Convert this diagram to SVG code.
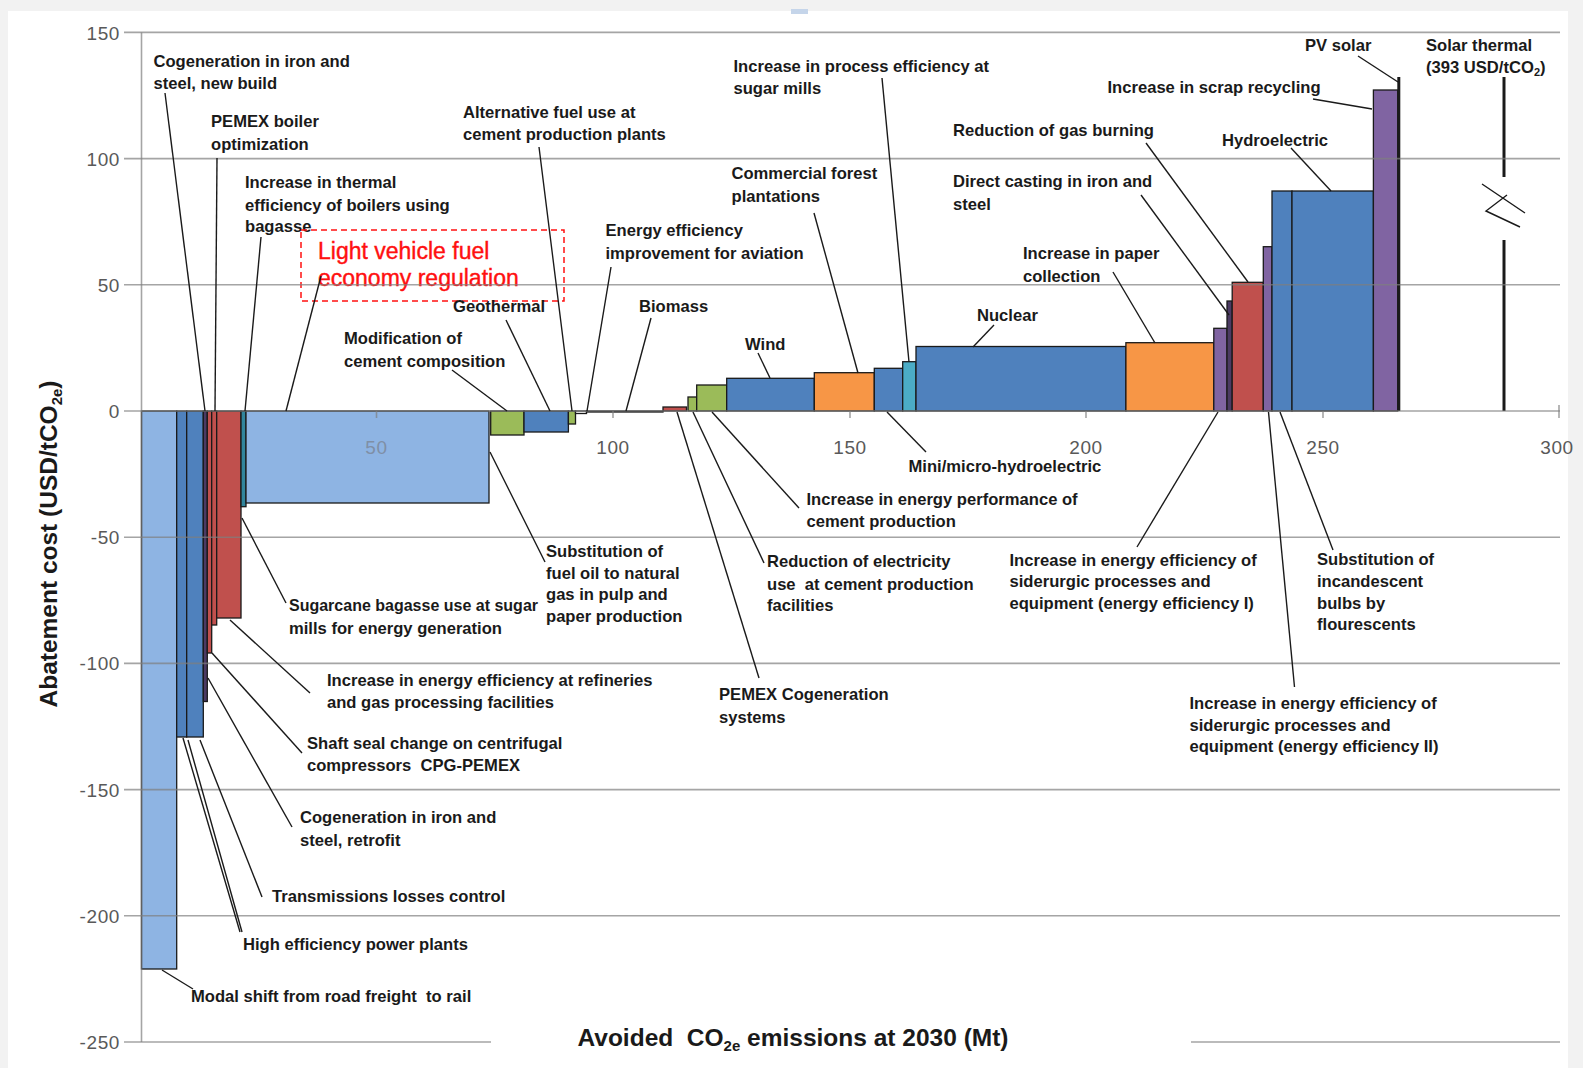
<svg xmlns="http://www.w3.org/2000/svg" width="1583" height="1068" viewBox="0 0 1583 1068">
<style>
.bar{stroke:#1a1a1a;stroke-width:1.3}
.lbl{font-family:"Liberation Sans",Arial,sans-serif;font-size:16.6px;font-weight:bold;fill:#1a1a1a}
.red{font-family:"Liberation Sans",Arial,sans-serif;font-size:23px;fill:#FF1010;stroke:#FF1010;stroke-width:0.4px}
.tk{font-family:"Liberation Sans",Arial,sans-serif;font-size:19px;fill:#595959;letter-spacing:0.6px}
.ttl{font-family:"Liberation Sans",Arial,sans-serif;font-size:24.5px;font-weight:bold;fill:#1a1a1a}
.grid{stroke:#7f7f7f;stroke-opacity:0.7;stroke-width:1.6;fill:none}
.ld{stroke:#1a1a1a;stroke-width:1.4;fill:none}
.lb{fill:#8EB4E3}.bl{fill:#4F81BD}.rd{fill:#C0504D}.gr{fill:#9BBB59}.pu{fill:#8064A2}.dp{fill:#4B3A63}.or{fill:#F79646}.te{fill:#4BACC6}.dt{fill:#31859C}
</style>
<rect width="1583" height="1068" fill="#F2F2F2"/>
<rect x="8" y="11" width="1560" height="1057" fill="#FFFFFF"/>
<rect x="791" y="9" width="17" height="5" fill="#C5D5EA"/>

<g id="bars-and-labels">
<g id="n-modal-shift"><rect class="bar lb" x="141.5" y="411" width="35.2" height="558"/><text class="lbl" x="191" y="1001.5">Modal shift from road freight&#160; to rail</text></g>
<g id="n-high-eff-power"><rect class="bar bl" x="176.7" y="411" width="10" height="326"/><text class="lbl" x="243" y="949.5">High efficiency power plants</text></g>
<g id="n-transmissions"><rect class="bar bl" x="186.7" y="411" width="16.6" height="326"/><text class="lbl" x="272" y="901.5">Transmissions losses control</text></g>
<g id="n-cogen-retrofit"><rect class="bar dp" x="203.3" y="411" width="4" height="290.5"/><text class="lbl" x="300" y="823">Cogeneration in iron and</text><text class="lbl" x="300" y="845.5">steel, retrofit</text></g>
<g id="n-shaft-seal"><rect class="bar rd" x="207.3" y="411" width="4.4" height="242"/><text class="lbl" x="307" y="749">Shaft seal change on centrifugal</text><text class="lbl" x="307" y="770.5">compressors&#160; CPG-PEMEX</text></g>
<g id="n-pemex-boiler"><rect class="bar rd" x="211.7" y="411" width="5" height="214"/><text class="lbl" x="211" y="126.5">PEMEX boiler</text><text class="lbl" x="211" y="149.5">optimization</text></g>
<g id="n-sugarcane"><rect class="bar rd" x="216.7" y="411" width="24.3" height="207"/><text class="lbl" x="289" y="610.5" style="font-size:16px">Sugarcane bagasse use at sugar</text><text class="lbl" x="289" y="634">mills for energy generation</text></g>
<g id="n-refineries"><text class="lbl" x="327" y="685.5">Increase in energy efficiency at refineries</text><text class="lbl" x="327" y="708">and gas processing facilities</text></g>
<g id="n-cogen-new"><text class="lbl" x="153.5" y="66.5">Cogeneration in iron and</text><text class="lbl" x="153.5" y="89">steel, new build</text></g>
<g id="n-thermal-boilers"><rect class="bar dt" x="241" y="411" width="5" height="95.7"/><text class="lbl" x="245" y="187.5">Increase in thermal</text><text class="lbl" x="245" y="210.5">efficiency of boilers using</text><text class="lbl" x="245" y="231.5">bagasse</text></g>
<g id="n-light-vehicle"><rect class="bar lb" x="246" y="411" width="243" height="92"/><rect x="301" y="230" width="263" height="71" fill="none" stroke="#FF1010" stroke-width="1.5" stroke-dasharray="6 4"/><text class="red" x="318" y="259">Light vehicle fuel</text><text class="red" x="318" y="286">economy regulation</text></g>
<g id="n-modification-cement"><rect class="bar gr" x="490.7" y="411" width="33.3" height="24"/><text class="lbl" x="344" y="343.5">Modification of</text><text class="lbl" x="344" y="366.5">cement composition</text></g>
<g id="n-geothermal"><rect class="bar bl" x="524" y="411" width="44.4" height="21"/><text class="lbl" x="453" y="312">Geothermal</text></g>
<g id="n-alternative-fuel"><rect class="bar gr" x="568.4" y="411" width="7.1" height="13"/><text class="lbl" x="463" y="117.5">Alternative fuel use at</text><text class="lbl" x="463" y="140">cement production plants</text></g>
<g id="n-aviation"><rect class="bar" fill="#FFFFFF" x="575.5" y="411" width="11" height="2.5"/><text class="lbl" x="605.5" y="235.5">Energy efficiency</text><text class="lbl" x="605.5" y="259">improvement for aviation</text></g>
<g id="n-biomass"><rect class="bar" fill="#FFFFFF" x="586.5" y="411" width="76.5" height="1"/><text class="lbl" x="639" y="312">Biomass</text></g>
<g id="n-substitution-fuel-oil"><text class="lbl" x="546" y="556.5">Substitution of</text><text class="lbl" x="546" y="579">fuel oil to natural</text><text class="lbl" x="546" y="600">gas in pulp and</text><text class="lbl" x="546" y="621.5">paper production</text></g>
<g id="n-pemex-cogen"><rect class="bar rd" x="663" y="407" width="23.5" height="4"/><text class="lbl" x="719" y="699.5">PEMEX Cogeneration</text><text class="lbl" x="719" y="723">systems</text></g>
<g id="n-reduction-electricity"><rect class="bar gr" x="688" y="397" width="8.7" height="14"/><text class="lbl" x="767" y="567">Reduction of electricity</text><text class="lbl" x="767" y="590">use&#160; at cement production</text><text class="lbl" x="767" y="610.5">facilities</text></g>
<g id="n-energy-perf-cement"><rect class="bar gr" x="696.7" y="385" width="30" height="26"/><text class="lbl" x="806.5" y="505">Increase in energy performance of</text><text class="lbl" x="806.5" y="527">cement production</text></g>
<g id="n-wind"><rect class="bar bl" x="726.7" y="378.3" width="87.6" height="32.7"/><text class="lbl" x="745" y="349.5">Wind</text></g>
<g id="n-commercial-forest"><rect class="bar or" x="814.3" y="372.7" width="60" height="38.3"/><text class="lbl" x="731.5" y="179">Commercial forest</text><text class="lbl" x="731.5" y="202">plantations</text></g>
<g id="n-mini-micro-hydro"><rect class="bar bl" x="874.3" y="368.3" width="28.4" height="42.7"/><text class="lbl" x="908.5" y="471.5">Mini/micro-hydroelectric</text></g>
<g id="n-sugar-mills"><rect class="bar te" x="902.7" y="361.7" width="13.3" height="49.3"/><text class="lbl" x="733.5" y="71.5">Increase in process efficiency at</text><text class="lbl" x="733.5" y="94">sugar mills</text></g>
<g id="n-nuclear"><rect class="bar bl" x="916" y="346.5" width="209.9" height="64.5"/><text class="lbl" x="977" y="320.5">Nuclear</text></g>
<g id="n-paper"><rect class="bar or" x="1125.9" y="342.7" width="87.9" height="68.3"/><text class="lbl" x="1023" y="259">Increase in paper</text><text class="lbl" x="1023" y="281.5">collection</text></g>
<g id="n-siderurgic-1"><rect class="bar pu" x="1213.8" y="328.3" width="13.2" height="82.7"/><text class="lbl" x="1009.5" y="565.5">Increase in energy efficiency of</text><text class="lbl" x="1009.5" y="587">siderurgic processes and</text><text class="lbl" x="1009.5" y="609">equipment (energy efficiency I)</text></g>
<g id="n-direct-casting"><rect class="bar dp" x="1227" y="301" width="5.2" height="110"/><text class="lbl" x="953" y="187">Direct casting in iron and</text><text class="lbl" x="953" y="209.5">steel</text></g>
<g id="n-gas-burning"><rect class="bar rd" x="1232.2" y="282.3" width="31.1" height="128.7"/><text class="lbl" x="953" y="135.5">Reduction of gas burning</text></g>
<g id="n-siderurgic-2"><rect class="bar pu" x="1263.3" y="246.7" width="8.7" height="164.3"/><text class="lbl" x="1189.5" y="709">Increase in energy efficiency of</text><text class="lbl" x="1189.5" y="730.5">siderurgic processes and</text><text class="lbl" x="1189.5" y="752">equipment (energy efficiency II)</text></g>
<g id="n-bulbs"><rect class="bar bl" x="1272" y="191" width="20" height="220"/><text class="lbl" x="1317" y="565">Substitution of</text><text class="lbl" x="1317" y="587">incandescent</text><text class="lbl" x="1317" y="609">bulbs by</text><text class="lbl" x="1317" y="629.5">flourescents</text></g>
<g id="n-hydro"><rect class="bar bl" x="1292" y="191" width="81.4" height="220"/><text class="lbl" x="1222" y="146">Hydroelectric</text></g>
<g id="n-scrap"><rect class="bar pu" x="1373.4" y="90" width="24.3" height="321"/><text class="lbl" x="1107.5" y="93">Increase in scrap recycling</text></g>
<g id="n-pv"><line x1="1398.8" y1="77" x2="1398.8" y2="411" stroke="#1a1a1a" stroke-width="3"/><text class="lbl" x="1305" y="50.5">PV solar</text></g>
<g id="n-solar-thermal"><line x1="1504" y1="77" x2="1504" y2="177" stroke="#1a1a1a" stroke-width="3"/><line x1="1504" y1="240" x2="1504" y2="411" stroke="#1a1a1a" stroke-width="3"/><path d="M1482,184 L1525,213 M1507,195 L1486,211 L1520,227" fill="none" stroke="#1a1a1a" stroke-width="1.4"/><text class="lbl" x="1426" y="50.5">Solar thermal</text><text class="lbl" x="1426" y="73">(393 USD/tCO<tspan font-size="11" dy="3">2</tspan><tspan dy="-3">)</tspan></text></g>
</g>

<g id="axes">
<g class="grid">
<line x1="124" y1="32.4" x2="1560" y2="32.4"/>
<line x1="124" y1="158.6" x2="1560" y2="158.6"/>
<line x1="124" y1="284.8" x2="1560" y2="284.8"/>
<line x1="124" y1="411" x2="1560" y2="411"/>
<line x1="124" y1="537.2" x2="1560" y2="537.2"/>
<line x1="124" y1="663.4" x2="1560" y2="663.4"/>
<line x1="124" y1="789.6" x2="1560" y2="789.6"/>
<line x1="124" y1="915.8" x2="1560" y2="915.8"/>
<line x1="124" y1="1042" x2="491" y2="1042"/>
<line x1="1191" y1="1042" x2="1560" y2="1042"/>
<line x1="141.5" y1="32.4" x2="141.5" y2="1042"/>
<path d="M376.5,411V418M613,411V418M850,411V418M1086,411V418M1323,411V418M1559,405V418"/>
</g>
<g class="tk" text-anchor="end">
<text x="120" y="39.5">150</text><text x="120" y="165.6">100</text><text x="120" y="291.8">50</text><text x="120" y="418">0</text><text x="120" y="544.2">-50</text><text x="120" y="670.4">-100</text><text x="120" y="796.6">-150</text><text x="120" y="922.8">-200</text><text x="120" y="1049">-250</text>
</g>
<g class="tk" text-anchor="middle">
<text x="376.5" y="453.5" fill="#7f8fa6">50</text><text x="613" y="453.5">100</text><text x="850" y="453.5">150</text><text x="1086" y="453.5">200</text><text x="1323" y="453.5">250</text><text x="1557" y="453.5">300</text>
</g>
<text class="ttl" text-anchor="middle" transform="translate(57,544) rotate(-90)">Abatement cost (USD/tCO<tspan font-size="15" dy="5">2e</tspan><tspan dy="-5">)</tspan></text>
<text class="ttl" x="793" y="1046" text-anchor="middle">Avoided&#160; CO<tspan font-size="15" dy="5">2e</tspan><tspan dy="-5"> emissions at 2030 (Mt)</tspan></text>
</g>

<g id="connectors" class="ld">
<line x1="165" y1="93" x2="205" y2="411"/>
<line x1="217" y1="158" x2="215" y2="411"/>
<line x1="261" y1="237" x2="245" y2="411"/>
<line x1="321" y1="276" x2="286" y2="411"/>
<line x1="452" y1="370" x2="507" y2="411"/>
<line x1="506" y1="320" x2="550" y2="411"/>
<line x1="539" y1="147" x2="572" y2="411"/>
<line x1="611" y1="267" x2="587" y2="411"/>
<line x1="651" y1="318" x2="626" y2="411"/>
<line x1="758" y1="353" x2="770" y2="378"/>
<line x1="814" y1="213" x2="858" y2="373"/>
<line x1="882" y1="78" x2="909" y2="362"/>
<line x1="994" y1="325" x2="973" y2="347"/>
<line x1="1146" y1="143" x2="1248" y2="282"/>
<line x1="1141" y1="195" x2="1229" y2="315"/>
<line x1="1113" y1="272" x2="1155" y2="343"/>
<line x1="1291" y1="148" x2="1331" y2="191"/>
<line x1="1313" y1="99" x2="1372" y2="109"/>
<line x1="1358" y1="56" x2="1398" y2="82"/>
<line x1="887" y1="412" x2="926" y2="452"/>
<line x1="712" y1="412" x2="799" y2="508"/>
<line x1="693" y1="412" x2="764" y2="563"/>
<line x1="677" y1="412" x2="759" y2="678"/>
<line x1="490" y1="452" x2="545" y2="562"/>
<line x1="242" y1="518" x2="286" y2="603"/>
<line x1="230" y1="620" x2="310" y2="693"/>
<line x1="212" y1="653" x2="302" y2="753"/>
<line x1="208" y1="678" x2="292" y2="827"/>
<line x1="200" y1="740" x2="262" y2="897"/>
<line x1="183" y1="738" x2="240" y2="932"/>
<line x1="188" y1="740" x2="242" y2="932"/>
<line x1="162" y1="970" x2="193" y2="989"/>
<line x1="1218" y1="412" x2="1137" y2="547"/>
<line x1="1268.5" y1="412" x2="1294.5" y2="687"/>
<line x1="1280" y1="412" x2="1333" y2="550"/>
</g>
</svg>
